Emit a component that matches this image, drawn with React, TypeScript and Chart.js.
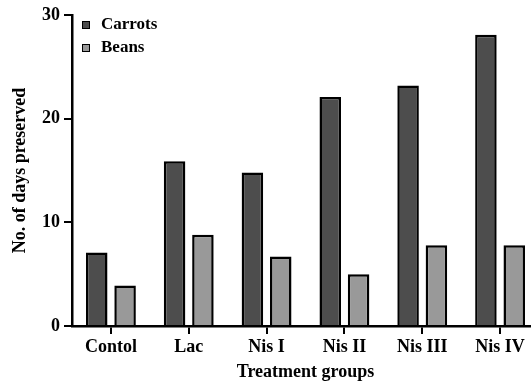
import React, { useEffect, useRef } from "react";
import { Chart, registerables } from "chart.js";

Chart.register(...registerables);

const categories = ["Contol", "Lac", "Nis I", "Nis II", "Nis III", "Nis IV"];
const carrots = [7.1, 15.9, 14.8, 22.1, 23.2, 28.1];
const beans = [3.9, 8.8, 6.7, 5.0, 7.8, 7.8];
const seriesNames = ["Carrots", "Beans"];
const yTicks = [0, 10, 20, 30];

const FONT = '"Liberation Serif", "DejaVu Serif", serif';

const legendPlugin = {
  id: "insideLegend",
  afterDraw(chart: any) {
    const { ctx, chartArea } = chart;
    ctx.save();
    ctx.font = `bold 17px ${FONT}`;
    ctx.textBaseline = "middle";
    ctx.textAlign = "left";
    chart.data.datasets.forEach((ds: any, i: number) => {
      const cy = chartArea.top + 10 + i * 23;
      const sx = chartArea.left + 10;
      ctx.fillStyle = ds.backgroundColor;
      ctx.fillRect(sx, cy - 4, 8, 8);
      ctx.strokeStyle = "#000";
      ctx.lineWidth = 1;
      ctx.strokeRect(sx + 0.5, cy - 3.5, 7, 7);
      ctx.fillStyle = "#000";
      ctx.fillText(ds.label, sx + 19, cy);
    });
    ctx.restore();
  },
};

function BarChart() {
  const ref = useRef<HTMLCanvasElement | null>(null);
  useEffect(() => {
    if (!ref.current) return;
    const chart = new Chart(ref.current, {
      type: "bar",
      data: {
        labels: categories,
        datasets: [
          {
            label: seriesNames[0],
            data: carrots,
            backgroundColor: "#4d4d4d",
            borderColor: "#000",
            borderWidth: 2.5,
            borderSkipped: "start",
          },
          {
            label: seriesNames[1],
            data: beans,
            backgroundColor: "#999999",
            borderColor: "#000",
            borderWidth: 2.5,
            borderSkipped: "start",
          },
        ],
      },
      options: {
        responsive: false,
        animation: false,
        devicePixelRatio: 1,
        layout: { padding: { top: 15, right: 0, bottom: 0, left: 0 } },
        datasets: {
          bar: { categoryPercentage: 0.728, barPercentage: 0.76 },
        },
        plugins: {
          legend: { display: false },
          tooltip: { enabled: false },
        },
        scales: {
          x: {
            offset: true,
            grid: {
              display: true,
              offset: false,
              drawOnChartArea: false,
              drawTicks: true,
              tickLength: 8,
              color: "#000",
              lineWidth: 2,
            },
            border: { display: true, color: "#000", width: 2.5 },
            ticks: {
              color: "#000",
              font: { family: FONT, size: 18, weight: "bold" },
              padding: 3,
              maxRotation: 0,
            },
            title: {
              display: true,
              text: "Treatment groups",
              color: "#000",
              font: { family: FONT, size: 18, weight: "bold" },
              padding: { top: 0, bottom: 0 },
            },
            afterFit: (s: any) => {
              s.height = 57;
            },
          },
          y: {
            min: 0,
            max: 30,
            afterBuildTicks: (s: any) => {
              s.ticks = yTicks.map((v) => ({ value: v }));
            },
            grid: {
              display: true,
              drawOnChartArea: false,
              drawTicks: true,
              tickLength: 8,
              color: "#000",
              lineWidth: 2,
            },
            border: { display: true, color: "#000", width: 2.5 },
            ticks: {
              color: "#000",
              font: { family: FONT, size: 18, weight: "bold" },
              padding: 4,
            },
            title: {
              display: true,
              text: "No. of days preserved",
              color: "#000",
              font: { family: FONT, size: 18, weight: "bold" },
              padding: { top: 10, bottom: 0 },
            },
            afterFit: (s: any) => {
              s.width = 72;
            },
          },
        },
      },
      plugins: [legendPlugin],
    });
    return () => chart.destroy();
  }, []);
  return <canvas ref={ref} width={539} height={383} style={{ display: "block" }} />;
}

export default function App() {
  return (
    <div
      style={{
        position: "fixed",
        left: 0,
        top: 0,
        width: 531,
        height: 383,
        overflow: "hidden",
        background: "#fff",
      }}
    >
      <BarChart />
    </div>
  );
}
